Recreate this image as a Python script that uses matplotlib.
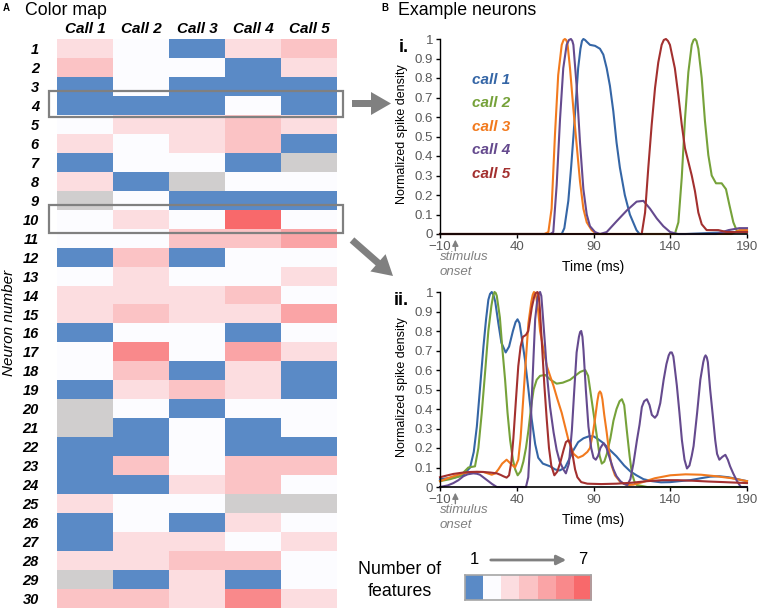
import numpy as np
import matplotlib
matplotlib.use('Agg')
import matplotlib.pyplot as plt
from matplotlib.colors import ListedColormap, BoundaryNorm
from matplotlib.patches import Rectangle, FancyArrow

plt.rcParams['font.family'] = ['Liberation Sans', 'DejaVu Sans']

# ---- data: heat map (number of features, nan = no response) ----
G = np.nan
calls = ['Call 1', 'Call 2', 'Call 3', 'Call 4', 'Call 5']
neurons = list(range(1, 31))
features = [
    [3, 2, 1, 3, 4],
    [4, 2, 2, 1, 3],
    [1, 2, 1, 1, 1],
    [1, 1, 1, 2, 1],
    [2, 3, 3, 4, 3],
    [3, 2, 3, 4, 1],
    [1, 2, 2, 1, G],
    [3, 1, G, 2, 2],
    [G, 2, 1, 1, 1],
    [2, 3, 2, 7, 2],
    [2, 2, 4, 4, 5],
    [1, 4, 1, 2, 2],
    [2, 3, 2, 2, 3],
    [3, 3, 3, 4, 2],
    [3, 4, 3, 3, 5],
    [1, 2, 2, 1, 2],
    [2, 6, 2, 5, 3],
    [2, 4, 1, 3, 1],
    [1, 3, 4, 3, 1],
    [G, 2, 1, 2, 2],
    [G, 1, 2, 1, 2],
    [1, 1, 2, 1, 1],
    [1, 4, 2, 4, 4],
    [1, 1, 3, 4, 2],
    [3, 2, 2, G, G],
    [1, 2, 1, 3, 2],
    [1, 3, 3, 2, 3],
    [3, 3, 4, 4, 2],
    [G, 1, 3, 1, 2],
    [4, 4, 3, 6, 3],
]
level_colors = ['#5A8AC6', '#FCFCFF', '#FCDDE0', '#FBC3C5', '#FAA4A6', '#F9898B', '#F8696B']
levels = [1, 2, 3, 4, 5, 6, 7]

# ---- data: example neuron i (time ms, normalized density) ----
i_c1_t = [-10, 60, 69.3, 71, 73.6, 75.5, 77, 78.5, 80, 81.5, 82.5, 83.4, 84.5, 85.6, 87.7, 91, 94.2,
          96.4, 98.6, 100.7, 102.9, 105, 107.2, 110.4, 113.7, 118, 120, 150, 180, 190]
i_c1_v = [0, 0, 0, 0.03, 0.17, 0.35, 0.51, 0.68, 0.85, 0.95, 0.99, 1.0, 0.995, 0.986, 0.97, 0.965,
          0.95, 0.92, 0.85, 0.76, 0.63, 0.47, 0.34, 0.2, 0.1, 0.02, 0, 0, 0.01, 0.01]
i_c2_t = [-10, 140, 143, 145.3, 147.5, 149.6, 151.8, 154, 155.2, 156.1, 157.1, 158.3, 160.5, 162.6,
          164.8, 167, 169.8, 173.5, 176.3, 178.5, 181.1, 183.7, 190]
i_c2_v = [0, 0, 0, 0.06, 0.29, 0.59, 0.83, 0.97, 0.995, 1.0, 0.99, 0.95, 0.8, 0.58,
          0.405, 0.3, 0.26, 0.26, 0.23, 0.15, 0.06, 0.01, 0.01]
i_c3_t = [-10, 58, 60.6, 62.7, 64.9, 67, 69.3, 70.5, 71.4, 72.2, 73, 74.7, 76.9, 79, 81.2, 83.4, 85.6,
          88.8, 92, 180, 185, 190]
i_c3_v = [0, 0, 0.01, 0.13, 0.51, 0.815, 0.97, 0.995, 1.0, 0.995, 0.98, 0.85, 0.64, 0.46, 0.27, 0.13,
          0.06, 0.02, 0, 0, 0.02, 0.02]
i_c4_t = [-10, 62, 63.8, 66, 68.2, 70.3, 72.5, 74, 75.3, 76.2, 76.9, 79, 81.2, 83.4, 85.6, 87.7, 91,
          94.2, 98.6, 105, 111.6, 118.1, 122.5, 126.8, 131.2, 135.5, 139.9, 145, 170, 178, 185, 190]
i_c4_v = [0, 0, 0.01, 0.25, 0.59, 0.85, 0.97, 0.995, 1.0, 0.99, 0.97, 0.76, 0.47, 0.23, 0.1, 0.04,
          0.01, 0, 0.01, 0.065, 0.12, 0.166, 0.17, 0.13, 0.08, 0.04, 0.01, 0, 0, 0.02, 0.03, 0.03]
i_c5_t = [-10, 119, 121.4, 123.6, 125.7, 127.9, 130.1, 132.2, 134.4, 135.8, 137.2, 138.5, 139.8, 143,
          145.3, 147.5, 149.6, 151.8, 154, 156.1, 158.3, 160.5, 163.7, 167, 171.3, 176.8, 190]
i_c5_v = [0, 0, 0, 0.11, 0.34, 0.56, 0.75, 0.88, 0.97, 0.995, 1.0, 0.99, 0.97, 0.85,
          0.71, 0.56, 0.44, 0.37, 0.3, 0.22, 0.11, 0.05, 0.02, 0.02, 0.02, 0.01, 0.01]

# ---- data: example neuron ii ----
ii_c1_t = [-10, -5, 0, 5, 9.6, 12, 14, 16, 18.3, 20, 21.5, 22.6, 23.7, 24.8, 26, 28, 30, 32.8, 35,
           37.5, 39.2, 40.5, 41.8, 43, 45.4, 47.6, 49.7, 52, 54, 57, 61.7, 65, 68, 71.5, 74, 77, 80,
           83.5, 87, 90, 93, 96.5, 100, 105, 110, 114, 118, 122.6, 128, 134, 140, 146, 153, 160, 166,
           172, 178, 184, 190]
ii_c1_v = [0.04, 0.045, 0.05, 0.06, 0.1, 0.18, 0.31, 0.5, 0.72, 0.86, 0.96, 0.99, 1.0, 0.985, 0.95,
           0.84, 0.74, 0.69, 0.72, 0.8, 0.845, 0.86, 0.84, 0.78, 0.65, 0.5, 0.35, 0.22, 0.15, 0.12,
           0.106, 0.09, 0.085, 0.1, 0.14, 0.19, 0.23, 0.25, 0.26, 0.26, 0.245, 0.225, 0.195, 0.157,
           0.11, 0.08, 0.06, 0.04, 0.03, 0.024, 0.025, 0.03, 0.035, 0.045, 0.053, 0.055, 0.05, 0.04,
           0.03]
ii_c2_t = [-10, -3.5, 3, 6, 8.5, 12.8, 15, 17.2, 19.5, 21.5, 23.5, 24.6, 25.5, 26.3, 27, 29, 30.5,
           32.4, 34, 35.7, 37.5, 39, 40.6, 42.5, 44.3, 46, 47.6, 49.5, 51, 53, 55.2, 58.5, 62, 66, 70,
           74.8, 78, 81.3, 84.6, 86.5, 87.8, 90, 92.2, 94, 95.4, 97, 98.7, 101, 103, 105, 107, 108.5,
           110, 111.7, 113.5, 115, 117, 118.3, 125, 190]
ii_c2_v = [0.03, 0.04, 0.055, 0.08, 0.1, 0.106, 0.2, 0.38, 0.6, 0.8, 0.93, 0.98, 1.0, 0.995, 0.98, 0.87,
           0.72, 0.55, 0.38, 0.24, 0.14, 0.09, 0.06, 0.08, 0.13, 0.2, 0.29, 0.42, 0.5, 0.55, 0.57,
           0.575, 0.55, 0.53, 0.535, 0.55, 0.57, 0.59, 0.6, 0.57, 0.5, 0.38, 0.26, 0.16, 0.12, 0.13,
           0.17, 0.25, 0.34, 0.4, 0.44, 0.45, 0.42, 0.29, 0.16, 0.07, 0.02, 0.01, 0, 0]
ii_c3_t = [-10, -5, -1.3, 5, 9.6, 14, 18.3, 21, 23.7, 26, 28, 30.5, 33.4, 36, 38.9, 41, 42.5, 44.3, 46,
           47.6, 49.5, 50.4, 51.2, 52, 52.8, 54, 55.2, 57.5, 59.6, 61.7, 63.9, 66.5, 69.3, 71.5, 73.7,
           75.5, 77, 80, 83, 86, 87.7, 89.5, 91, 92.5, 93.4, 94.2, 95, 95.8, 97, 98.6, 100, 101.8, 104,
           107.3, 111.6, 116, 122, 130, 140, 150, 160, 170, 180, 190]
ii_c3_v = [0.03, 0.045, 0.055, 0.07, 0.075, 0.077, 0.077, 0.07, 0.063, 0.07, 0.09, 0.12, 0.14, 0.12,
           0.1, 0.14, 0.25, 0.46, 0.66, 0.84, 0.95, 0.985, 1.0, 0.995, 0.97, 0.9, 0.8, 0.7, 0.62,
           0.57, 0.52, 0.45, 0.38, 0.31, 0.24, 0.2, 0.17, 0.15, 0.16, 0.18, 0.2, 0.27, 0.35, 0.44,
           0.48, 0.49, 0.48, 0.45, 0.37, 0.28, 0.19, 0.11, 0.06, 0.027, 0.01, 0.012, 0.025, 0.045,
           0.06, 0.065, 0.063, 0.055, 0.045, 0.03]
ii_c4_t = [-10, -5, -1.3, 2, 5.2, 8, 11.7, 14, 16, 19, 21.5, 24, 27, 46, 47.5, 48.5, 49.8, 51, 52, 53.5,
           54.5, 55.2, 56, 56.8, 58.5, 60, 61.7, 64, 66, 68, 70.4, 72, 74, 75.9, 77.5, 79, 80.5, 81.3,
           82, 82.8, 83.5, 85, 86.7, 88.5, 90, 91.5, 93, 94.5, 96.5, 98.5, 100.9, 103, 105, 107.5,
           109.6, 112, 114, 116, 118.3, 120, 121.5, 123, 124.8, 126.5, 128, 130, 131.5, 133.5, 135.7,
           137.5, 139, 140, 141, 142, 142.5, 144.3, 146, 147.6, 149.3, 150.9, 152.5, 154, 155.2, 157.5,
           159.6, 161.5, 162.3, 163, 163.8, 164.5, 166, 167.8, 169.3, 170.5, 172, 174, 175.9, 177.5,
           179, 181, 183.5, 186, 190]
ii_c4_v = [0, 0.008, 0.02, 0.035, 0.055, 0.065, 0.07, 0.068, 0.063, 0.045, 0.03, 0.015, 0, 0, 0.05, 0.2,
           0.46, 0.68, 0.86, 0.97, 0.995, 1.0, 0.98, 0.9, 0.72, 0.55, 0.41, 0.28, 0.19, 0.13, 0.09,
           0.07, 0.12, 0.29, 0.5, 0.69, 0.77, 0.795, 0.8, 0.77, 0.7, 0.5, 0.31, 0.2, 0.15, 0.14, 0.16,
           0.2, 0.225, 0.2, 0.14, 0.09, 0.055, 0.03, 0.017, 0.01, 0.04, 0.12, 0.24, 0.32, 0.41, 0.44,
           0.45, 0.42, 0.37, 0.355, 0.37, 0.43, 0.55, 0.63, 0.675, 0.69, 0.69, 0.67, 0.64, 0.52,
           0.38, 0.24, 0.14, 0.095, 0.11, 0.16, 0.21, 0.38, 0.55, 0.64, 0.665, 0.675, 0.665, 0.64,
           0.5, 0.36, 0.24, 0.17, 0.14, 0.155, 0.165, 0.14, 0.106, 0.07, 0.03, 0, 0]
ii_c5_t = [-10, -5, -1.3, 5, 9.6, 14, 18.3, 23, 27, 29.5, 31.3, 33.4, 35, 36.5, 37.8, 39.5, 41, 42.5, 44,
           46, 47.5, 49.8, 51.5, 52.5, 53.5, 54.3, 55, 56.5, 58, 59.5, 61, 62.5, 64.5, 66.5, 68.5,
           70.5, 72, 73.7, 75, 76.5, 78, 79.5, 82, 86, 95, 105, 115, 125, 135, 145, 155, 165, 175, 190]
ii_c5_v = [0.05, 0.06, 0.067, 0.074, 0.077, 0.078, 0.077, 0.074, 0.07, 0.062, 0.055, 0.048, 0.06, 0.13,
           0.25, 0.45, 0.62, 0.72, 0.77, 0.78, 0.8, 0.92, 0.98, 0.995, 1.0, 0.98, 0.92, 0.72, 0.52,
           0.35, 0.2, 0.11, 0.06, 0.08, 0.13, 0.19, 0.23, 0.24, 0.22, 0.16, 0.09, 0.05, 0.025, 0.017,
           0.015, 0.017, 0.022, 0.03, 0.035, 0.035, 0.032, 0.028, 0.025, 0.02]

call_names = ['call 1', 'call 2', 'call 3', 'call 4', 'call 5']
call_colors = ['#3566A6', '#76A23A', '#F27A1E', '#654A8E', '#A3302F']
legend_y = [0.79, 0.67, 0.55, 0.43, 0.31]
time_ticks = [-10, 40, 90, 140, 190]
dens_ticks = [0, 0.1, 0.2, 0.3, 0.4, 0.5, 0.6, 0.7, 0.8, 0.9, 1]
dens_labels = ['0', '0.1', '0.2', '0.3', '0.4', '0.5', '0.6', '0.7', '0.8', '0.9', '1']

W, H = 757, 609


def rect(l, t, r, b):
    return [l / W, 1 - b / H, (r - l) / W, (b - t) / H]


fig = plt.figure(figsize=(W / 100, H / 100), dpi=100)

# ---- A: heat map ----
cmap = ListedColormap(level_colors)
cmap.set_bad('#D0CECE')
norm = BoundaryNorm(np.arange(0.5, 8.5, 1), cmap.N)
hm = fig.add_axes(rect(57, 39, 337, 608))
hm.imshow(np.ma.masked_invalid(np.array(features, dtype=float)), cmap=cmap, norm=norm,
          aspect='auto', interpolation='nearest')
hm.xaxis.tick_top()
hm.set_xticks(range(len(calls)))
hm.set_xticklabels(calls, fontsize=11, fontweight='bold', fontstyle='italic')
hm.set_yticks(range(len(neurons)))
hm.set_yticklabels([str(n) for n in neurons], fontsize=10.5, fontweight='bold', fontstyle='italic')
hm.tick_params(length=0)
hm.tick_params(axis='y', pad=13)
hm.tick_params(axis='x', pad=2.5)
for s in hm.spines.values():
    s.set_visible(False)

# ---- B: example neurons ----
panels = [
    (rect(440, 39, 747, 234), [(i_c1_t, i_c1_v), (i_c2_t, i_c2_v), (i_c3_t, i_c3_v),
                               (i_c4_t, i_c4_v), (i_c5_t, i_c5_v)], 'i.'),
    (rect(440, 292, 747, 487), [(ii_c1_t, ii_c1_v), (ii_c2_t, ii_c2_v), (ii_c3_t, ii_c3_v),
                                (ii_c4_t, ii_c4_v), (ii_c5_t, ii_c5_v)], 'ii.'),
]
axes = []
for pos, series, tag in panels:
    ax = fig.add_axes(pos)
    for (t, v), col in zip(series, call_colors):
        ax.plot(t, v, color=col, lw=1.5, clip_on=False, solid_joinstyle='round')
    ax.set_xlim(-10, 190)
    ax.set_ylim(0, 1)
    ax.set_xticks(time_ticks)
    ax.set_yticks(dens_ticks)
    ax.set_yticklabels(dens_labels)
    ax.tick_params(labelsize=9.5, labelcolor='#595959', length=3, width=1, pad=2)
    for side in ['top', 'right']:
        ax.spines[side].set_visible(False)
    ax.spines['left'].set_linewidth(1)
    ax.spines['bottom'].set_linewidth(1.2)
    ax.text(-0.124, 0.51, 'Normalized spike density', transform=ax.transAxes, rotation=90,
            ha='center', va='center', fontsize=9)
    ax.text(0.5, -0.17, 'Time (ms)', transform=ax.transAxes, ha='center', va='center', fontsize=10)
    ax.text(-0.10, 1.0, tag, transform=ax.transAxes, ha='right', va='top', fontsize=13,
            fontweight='bold')
    ax.annotate('', xy=(0, -0.015), xytext=(0, -0.1), xycoords='data',
                arrowprops=dict(arrowstyle='-|>', color='#808080', lw=1, mutation_scale=9),
                annotation_clip=False)
    ax.text(-10, -0.118, 'stimulus', color='#808080', fontstyle='italic', fontsize=9.5,
            ha='left', va='center', clip_on=False)
    ax.text(-10, -0.195, 'onset', color='#808080', fontstyle='italic', fontsize=9.5,
            ha='left', va='center', clip_on=False)
    axes.append(ax)

for name, col, y in zip(call_names, call_colors, legend_y):
    axes[0].text(11, y, name, color=col, fontsize=11, fontweight='bold', fontstyle='italic',
                 ha='left', va='center')

# ---- colour key ----
cb = fig.add_axes(rect(465, 575, 591, 600))
cb.imshow([levels], cmap=cmap, norm=norm, aspect='auto', interpolation='nearest')
cb.set_xticks([])
cb.set_yticks([])
for s in cb.spines.values():
    s.set_color('#A6A6A6')
    s.set_linewidth(1.2)

# ---- overlay: titles, boxes, arrows ----
ov = fig.add_axes([0, 0, 1, 1])
ov.set_xlim(0, W)
ov.set_ylim(H, 0)
ov.axis('off')
ov.set_zorder(10)
ov.text(3, 11, 'A', fontsize=7, fontweight='bold', va='baseline')
ov.text(25, 15, 'Color map', fontsize=12.8, va='baseline')
ov.text(381, 11, 'B', fontsize=7, fontweight='bold', va='baseline')
ov.text(398, 15, 'Example neurons', fontsize=12.8, va='baseline')
ov.text(9, 323, 'Neuron number', fontsize=11, fontstyle='italic', rotation=90,
        ha='center', va='center')
ov.add_patch(Rectangle((49, 91), 294, 26, fill=False, ec='#808080', lw=1.6))
ov.add_patch(Rectangle((49, 205), 294, 28, fill=False, ec='#808080', lw=1.6))
ov.add_patch(FancyArrow(352, 103.5, 39, 0, width=7, head_width=23, head_length=20,
                        length_includes_head=True, color='#808080', lw=0))
ov.add_patch(FancyArrow(352, 240, 41, 36, width=7, head_width=23, head_length=20,
                        length_includes_head=True, color='#808080', lw=0))
ov.text(474, 559, '1', fontsize=12, ha='center', va='center')
ov.text(583, 559, '7', fontsize=12, ha='center', va='center')
ov.annotate('', xy=(569, 560), xytext=(488, 560),
            arrowprops=dict(arrowstyle='-|>', color='#808080', lw=2, mutation_scale=14))
ov.text(400, 570, 'Number of', fontsize=12.8, ha='center', va='center')
ov.text(400, 591, 'features', fontsize=12.8, ha='center', va='center')

fig.savefig('out.png', dpi=100)
